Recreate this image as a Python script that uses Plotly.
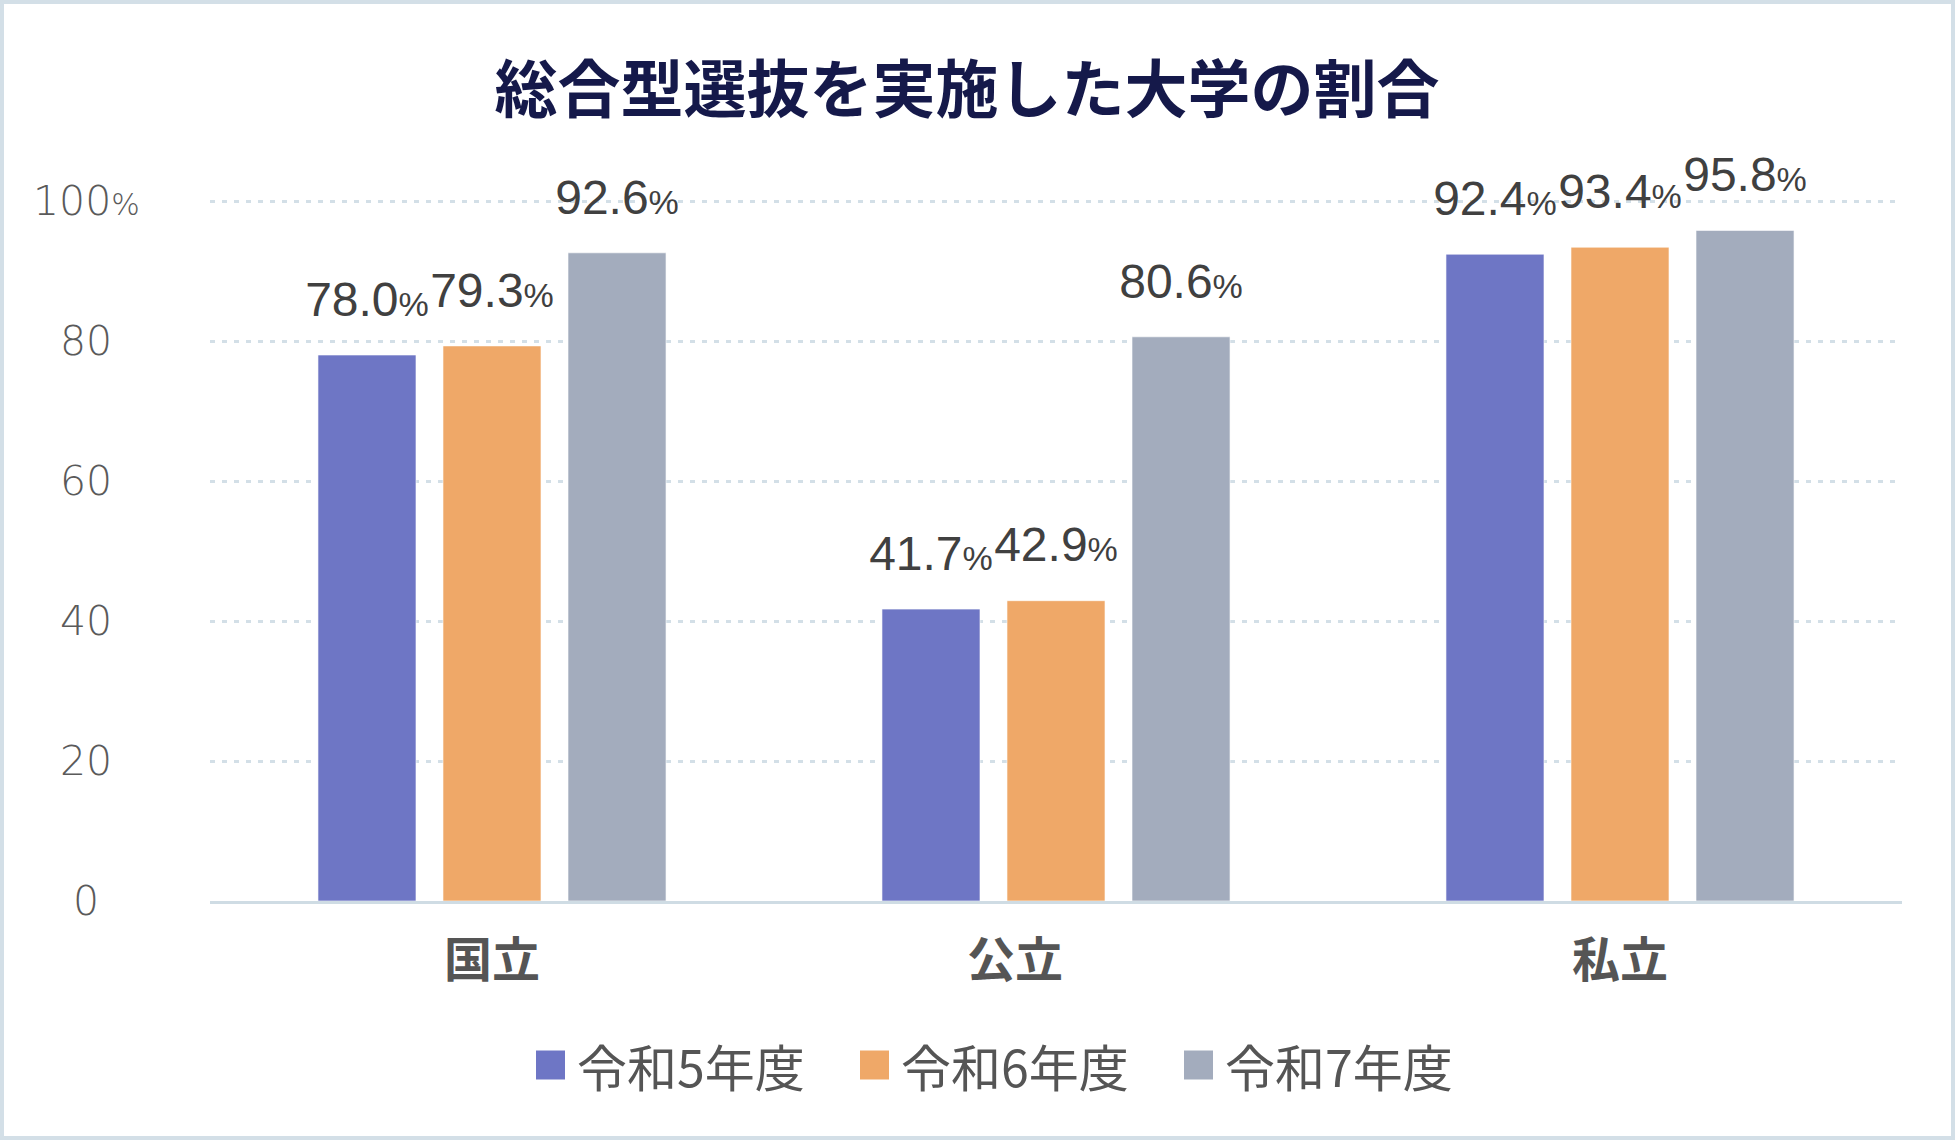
import plotly.graph_objects as go

# ---- data ----
categories = ["国立", "公立", "私立"]
series_names = ["令和5年度", "令和6年度", "令和7年度"]
r5_values = [78.0, 41.7, 92.4]
r6_values = [79.3, 42.9, 93.4]
r7_values = [92.6, 80.6, 95.8]
y_ticks = [0, 20, 40, 60, 80, 100]
title_text = "総合型選抜を実施した大学の割合"

series_values = [r5_values, r6_values, r7_values]
colors = ["#6e76c5", "#efa868", "#a3acbd"]

# ---- layout geometry ----
W, H = 1955, 1140
ML, MR, MT, MB = 210, 53, 194, 239
PW, PH = W - ML - MR, H - MT - MB
Y_MAX = 101
BARGAP = 0.335
GROUPGAP = 0.216

JP = "Noto Sans CJK JP"
NUM = "Liberation Sans, Noto Sans CJK JP"
TICKF = "DejaVu Sans, Noto Sans CJK JP"

def px_x(px):
    return (px - ML) / PW

def px_y(py):
    return (H - MB - py) / PH

fig = go.Figure()

for i, (name, vals) in enumerate(zip(series_names, series_values)):
    fig.add_trace(go.Bar(
        x=categories, y=vals, name=name,
        marker=dict(color=colors[i], line=dict(width=1, color="rgba(255,255,255,0.6)")),
        offsetgroup=str(i), showlegend=False, hoverinfo="skip",
    ))

for i, vals in enumerate(series_values):
    fig.add_trace(go.Scatter(
        x=categories, y=vals, mode="markers+text",
        text=[f"{v:.1f}<span style='font-size:34px'>%</span>" for v in vals],
        textposition="top center",
        textfont=dict(family=NUM, size=48, color="#404040"),
        marker=dict(size=42, opacity=0, color="white"),
        offsetgroup=str(i), showlegend=False, hoverinfo="skip",
        cliponaxis=False,
    ))

annotations = []
# y tick labels (centered)
for v in y_ticks:
    t = f"{v}<span style='font-size:30px'>%</span>" if v == 100 else f"{v}"
    annotations.append(dict(
        x=px_x(86), xref="paper", y=v, yref="y", text=t, showarrow=False,
        xanchor="center", yanchor="middle",
        font=dict(family=TICKF, size=41, color="#5a5a5a", weight=300),
    ))

# category labels
label_shift = {"公立": -41}
for c in categories:
    annotations.append(dict(
        x=c, xref="x", y=px_y(956), yref="paper", text=c, showarrow=False,
        xanchor="center", yanchor="middle", xshift=label_shift.get(c, 0),
        font=dict(family=JP, size=48, color="#555555", weight="bold"),
    ))

# custom legend
shapes = []
LEG_X0, LEG_STEP, LEG_Y, SW = 536, 324, 1065, 29
for i, name in enumerate(series_names):
    x_left = LEG_X0 + i * LEG_STEP
    shapes.append(dict(
        type="rect", xref="paper", yref="paper",
        xsizemode="pixel", ysizemode="pixel",
        xanchor=px_x(x_left), yanchor=px_y(LEG_Y),
        x0=0, x1=SW, y0=-SW / 2, y1=SW / 2,
        fillcolor=colors[i], line=dict(width=0),
    ))
    annotations.append(dict(
        x=px_x(x_left + SW + 10), xref="paper", y=px_y(LEG_Y), yref="paper",
        text=name, showarrow=False, xanchor="left", yanchor="middle",
        font=dict(family=JP, size=50, color="#555555"),
    ))

# outer border
shapes.append(dict(
    type="rect", xref="paper", yref="paper",
    x0=px_x(2), x1=px_x(W - 2), y0=px_y(H - 2), y1=px_y(2),
    line=dict(color="#d3dfe7", width=4), fillcolor="rgba(0,0,0,0)", layer="below",
))

fig.update_layout(
    width=W, height=H, autosize=False,
    margin=dict(l=ML, r=MR, t=MT, b=MB, pad=0),
    paper_bgcolor="white", plot_bgcolor="white",
    barmode="group", bargap=BARGAP, bargroupgap=GROUPGAP,
    scattermode="group", scattergap=BARGAP,
    title=dict(
        text=f"<b>{title_text}</b>", x=967 / W, xanchor="center",
        y=1 - 90 / H, yanchor="middle", yref="container",
        font=dict(family=JP, size=63, color="#15194a"),
    ),
    xaxis=dict(
        type="category", showticklabels=False, showgrid=False,
        showline=True, linecolor="#cfdce4", linewidth=3, ticks="",
        zeroline=False,
    ),
    yaxis=dict(
        range=[0, Y_MAX], tickvals=y_ticks, showticklabels=False,
        showgrid=True, gridcolor="#d3dfe7", gridwidth=3, griddash="5px,7px",
        zeroline=False, showline=False, ticks="",
    ),
    annotations=annotations, shapes=shapes,
    showlegend=False,
)

fig.write_html("out.html")
